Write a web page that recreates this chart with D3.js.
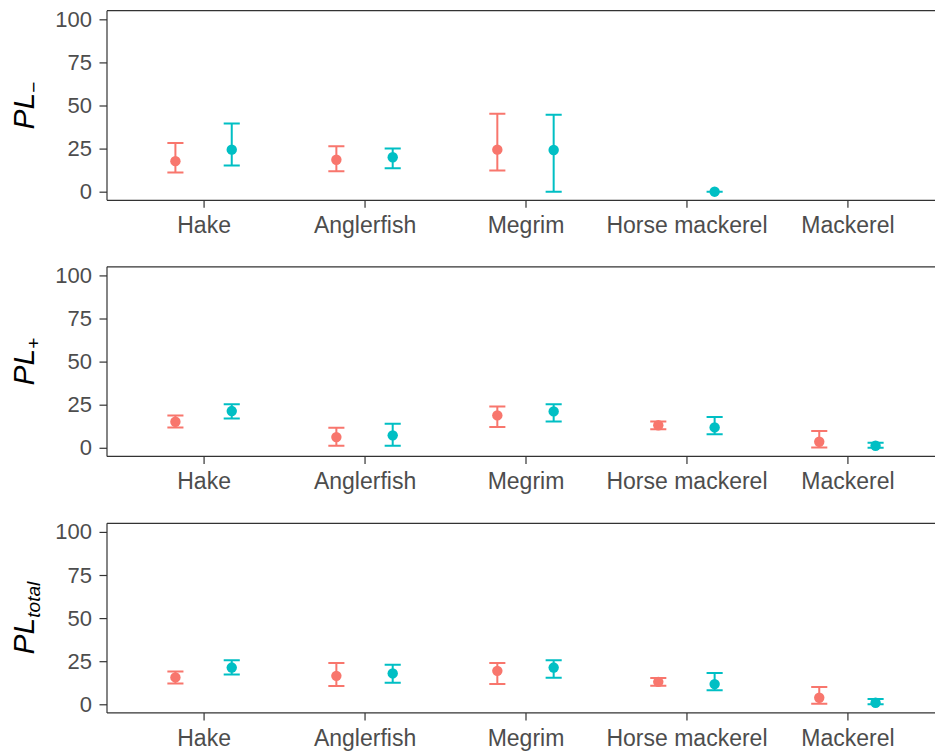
<!DOCTYPE html>
<html>
<head>
<meta charset="utf-8">
<script src="https://cdn.jsdelivr.net/npm/d3@7"></script>
<style>
  html, body { margin: 0; padding: 0; background: #fff; }
  svg { display: block; }
</style>
</head>
<body>
<svg id="chart" width="935" height="751"></svg>
<script>
// ---- data ----
const categories = ["Hake", "Anglerfish", "Megrim", "Horse mackerel", "Mackerel"];
const yTicks = [0, 25, 50, 75, 100];
const groupNames = ["group1", "group2"];
const groupColors = ["#F8766D", "#00BFC4"];

// Panel 1: PL−
const p1_g1_mean = [17.7, 18.5, 24.4, null, null];
const p1_g1_lo   = [11.1, 11.9, 12.3, null, null];
const p1_g1_hi   = [28.3, 26.3, 45.2, null, null];
const p1_g2_mean = [24.4, 20.0, 24.2, 0.0, null];
const p1_g2_lo   = [15.2, 13.6, 0.0, 0.0, null];
const p1_g2_hi   = [39.6, 25.0, 44.6, 0.0, null];

// Panel 2: PL+
const p2_g1_mean = [15.1, 6.2, 18.8, 13.1, 3.5];
const p2_g1_lo   = [11.8, 1.2, 12.0, 10.8, 0.2];
const p2_g1_hi   = [18.8, 11.6, 24.0, 15.3, 9.8];
const p2_g2_mean = [21.3, 7.2, 21.1, 11.8, 1.2];
const p2_g2_lo   = [17.0, 1.2, 15.3, 7.9, 0.0];
const p2_g2_hi   = [25.3, 13.9, 25.3, 17.9, 2.9];

// Panel 3: PL total
const p3_g1_mean = [15.6, 16.5, 19.4, 13.0, 3.8];
const p3_g1_lo   = [12.1, 10.6, 11.7, 10.7, 0.3];
const p3_g1_hi   = [19.0, 24.0, 24.0, 15.2, 10.0];
const p3_g2_mean = [21.3, 17.9, 21.3, 11.7, 0.9];
const p3_g2_lo   = [17.3, 12.5, 15.4, 8.1, 0.0];
const p3_g2_hi   = [25.6, 22.9, 25.6, 18.2, 3.1];

const panelTitles = [
  {main: "PL", sub: "\u2212"},
  {main: "PL", sub: "+"},
  {main: "PL", sub: "total"}
];
const panelData = [
  [[p1_g1_mean, p1_g1_lo, p1_g1_hi], [p1_g2_mean, p1_g2_lo, p1_g2_hi]],
  [[p2_g1_mean, p2_g1_lo, p2_g1_hi], [p2_g2_mean, p2_g2_lo, p2_g2_hi]],
  [[p3_g1_mean, p3_g1_lo, p3_g1_hi], [p3_g2_mean, p3_g2_lo, p3_g2_hi]]
];

// ---- layout ----
const svg = d3.select("#chart");
const plotLeft = 107, plotRight = 944;
const panelTops = [10.7, 266.8, 523.3];
const panelH = 189.6;
const font = "'Liberation Sans', Arial, sans-serif";
const axisColor = "#333333";
const tickTextColor = "#4D4D4D";

const x = d3.scaleLinear().domain([-0.6, categories.length - 1 + 0.6]).range([plotLeft, plotRight]);
const dodge = 0.175, capHalf = 0.05;

panelData.forEach((groups, pi) => {
  const top = panelTops[pi], bottom = top + panelH;
  const y = d3.scaleLinear().domain([-5, 105]).range([bottom, top]);
  const g = svg.append("g");

  // top border
  g.append("line").attr("x1", plotLeft).attr("x2", plotRight)
    .attr("y1", top).attr("y2", top)
    .attr("stroke", axisColor).attr("stroke-width", 1.2);

  // y axis
  const yAxis = d3.axisLeft(y).tickValues(yTicks).tickSize(7.5).tickPadding(7.5);
  const ya = g.append("g").attr("transform", `translate(${plotLeft},0)`).call(yAxis);
  ya.select(".domain").attr("stroke", axisColor).attr("stroke-width", 1.2)
    .attr("d", `M0,${top}V${bottom}`);
  ya.selectAll(".tick line").attr("stroke", axisColor).attr("stroke-width", 1.2);
  ya.selectAll(".tick text").attr("fill", tickTextColor)
    .style("font-family", font).style("font-size", "22px");

  // x axis
  const xAxis = d3.axisBottom(x).tickValues(d3.range(categories.length))
    .tickFormat(i => categories[i]).tickSize(7.5).tickPadding(9);
  const xa = g.append("g").attr("transform", `translate(0,${bottom})`).call(xAxis);
  xa.select(".domain").attr("stroke", axisColor).attr("stroke-width", 1.2)
    .attr("d", `M${plotLeft},0H${plotRight}`);
  xa.selectAll(".tick line").attr("stroke", axisColor).attr("stroke-width", 1.2);
  xa.selectAll(".tick text").attr("fill", tickTextColor)
    .style("font-family", font).style("font-size", "23px");

  // y title
  const t = panelTitles[pi];
  const tt = g.append("text")
    .attr("transform", `translate(34,${(top + bottom) / 2}) rotate(-90)`)
    .attr("text-anchor", "middle")
    .style("font-family", font).attr("fill", "#000");
  tt.append("tspan").text(t.main).style("font-style", "italic").style("font-size", "30px");
  tt.append("tspan").text(t.sub).style("font-style", t.sub === "total" ? "italic" : "normal")
    .style("font-size", "19px").attr("dy", 6);

  // error bars and points
  groups.forEach((ser, gi) => {
    const [mean, lo, hi] = ser;
    const col = groupColors[gi];
    const off = gi === 0 ? -dodge : dodge;
    const pts = categories.map((c, i) => ({i, m: mean[i], lo: lo[i], hi: hi[i]}))
      .filter(d => d.m !== null);
    const eg = g.append("g").attr("class", "series-" + groupNames[gi]);
    eg.selectAll("path.err").data(pts).enter().append("path")
      .attr("class", "err")
      .attr("d", d => {
        const xc = x(d.i + off), xl = x(d.i + off - capHalf), xr = x(d.i + off + capHalf);
        return `M${xl},${y(d.hi)}H${xr}M${xc},${y(d.hi)}V${y(d.lo)}M${xl},${y(d.lo)}H${xr}`;
      })
      .attr("fill", "none").attr("stroke", col).attr("stroke-width", 2);
    eg.selectAll("circle").data(pts).enter().append("circle")
      .attr("cx", d => x(d.i + off)).attr("cy", d => y(d.m)).attr("r", 5.2)
      .attr("fill", col);
  });
});
</script>
</body>
</html>
